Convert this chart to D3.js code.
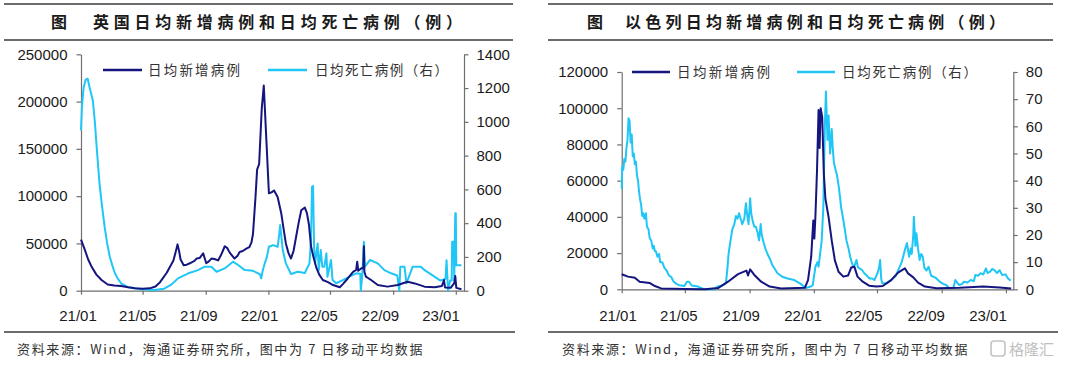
<!DOCTYPE html>
<html><head><meta charset="utf-8">
<script src="https://cdn.jsdelivr.net/npm/d3@7/dist/d3.min.js"></script>
<style>body{margin:0;background:#fff}svg{display:block}</style>
</head><body>
<script>
// ---------------- DATA ----------------
const xTickDates = ["2021-01-01","2021-05-01","2021-09-01","2022-01-01","2022-05-01","2022-09-01","2023-01-01"];
const ukTitle = "英国日均新增病例和日均死亡病例（例）";
const ilTitle = "以色列日均新增病例和日均死亡病例（例）";
const legendCases = "日均新增病例";
const legendDeaths = "日均死亡病例（右）";
const sourceText = "资料来源：Wind，海通证券研究所，图中为 7 日移动平均数据";
const ukLeftTicks = [0,50000,100000,150000,200000,250000];
const ukRightTicks = [0,200,400,600,800,1000,1200,1400];
const ilLeftTicks = [0,20000,40000,60000,80000,100000,120000];
const ilRightTicks = [0,10,20,30,40,50,60,70,80];

const ukCases = [
["2021-01-01",54000],["2021-01-08",44000],["2021-01-15",33000],["2021-01-22",25000],["2021-01-31",17000],["2021-02-10",11300],["2021-02-22",6500],["2021-03-07",5500],["2021-03-20",5000],["2021-04-03",3600],["2021-04-16",2600],["2021-05-01",2100],["2021-05-15",2500],["2021-05-26",4500],["2021-06-04",9000],["2021-06-17",19000],["2021-06-30",32000],["2021-07-04",40000],["2021-07-08",49000],["2021-07-11",42000],["2021-07-14",33000],["2021-07-20",27000],["2021-07-26",27500],["2021-08-01",29000],["2021-08-10",31500],["2021-08-14",34000],["2021-08-20",34500],["2021-08-27",39500],["2021-09-02",29000],["2021-09-07",31000],["2021-09-12",34000],["2021-09-18",33500],["2021-09-25",32000],["2021-10-01",38000],["2021-10-08",47000],["2021-10-13",45000],["2021-10-18",40000],["2021-10-27",34000],["2021-11-02",37000],["2021-11-06",41000],["2021-11-12",42000],["2021-11-19",44500],["2021-11-25",46000],["2021-11-29",51000],["2021-12-02",60000],["2021-12-07",100000],["2021-12-10",128000],["2021-12-14",134000],["2021-12-19",192000],["2021-12-23",217000],["2021-12-28",160000],["2022-01-02",103000],["2022-01-07",104000],["2022-01-12",106000],["2022-01-19",99000],["2022-01-26",82000],["2022-01-31",64000],["2022-02-04",50000],["2022-02-09",40000],["2022-02-14",34000],["2022-02-19",42000],["2022-02-24",57000],["2022-03-01",72000],["2022-03-06",85000],["2022-03-13",88000],["2022-03-17",82000],["2022-03-21",70000],["2022-03-25",47000],["2022-03-30",35000],["2022-04-04",25000],["2022-04-10",17000],["2022-04-17",11300],["2022-04-27",9000],["2022-05-07",6000],["2022-05-20",3600],["2022-05-26",7000],["2022-06-02",11300],["2022-06-09",16000],["2022-06-15",20000],["2022-06-21",22000],["2022-06-23",30700],["2022-06-25",21000],["2022-07-01",23700],["2022-07-05",24000],["2022-07-06",47000],["2022-07-07",20000],["2022-07-10",14800],["2022-07-20",11300],["2022-08-02",6000],["2022-08-21",4300],["2022-09-10",6000],["2022-09-29",9500],["2022-10-13",7700],["2022-11-01",4300],["2022-11-21",3600],["2022-12-05",5000],["2022-12-09",11300],["2022-12-11",3500],["2022-12-22",3000],["2022-12-29",8000],["2022-12-31",15500],["2023-01-02",3000],["2023-01-12",1500]
];

const ukDeaths = [
["2021-01-01",950],["2021-01-03",1100],["2021-01-06",1200],["2021-01-10",1250],["2021-01-14",1255],["2021-01-18",1200],["2021-01-24",1128],["2021-01-28",1000],["2021-01-31",872],["2021-02-06",635],["2021-02-11",500],["2021-02-16",379],["2021-02-21",280],["2021-02-26",201],["2021-03-03",150],["2021-03-08",103],["2021-03-14",70],["2021-03-20",44],["2021-04-03",20],["2021-04-28",8],["2021-05-24",4],["2021-06-12",12],["2021-06-25",34],["2021-07-09",73],["2021-07-29",103],["2021-08-17",122],["2021-08-30",142],["2021-09-12",142],["2021-09-22",112],["2021-10-08",132],["2021-10-24",172],["2021-11-03",152],["2021-11-16",122],["2021-12-02",118],["2021-12-12",103],["2021-12-16",95],["2021-12-18",73],["2021-12-21",120],["2021-12-25",162],["2021-12-29",200],["2022-01-02",260],["2022-01-10",270],["2022-01-19",260],["2022-01-22",330],["2022-01-24",389],["2022-01-27",300],["2022-01-29",241],["2022-02-04",162],["2022-02-14",99],["2022-02-27",112],["2022-03-13",105],["2022-03-22",162],["2022-03-25",300],["2022-03-27",615],["2022-03-29",620],["2022-03-31",260],["2022-04-02",162],["2022-04-07",280],["2022-04-09",120],["2022-04-13",241],["2022-04-16",142],["2022-04-20",142],["2022-04-24",221],["2022-04-26",83],["2022-05-03",182],["2022-05-06",63],["2022-05-13",44],["2022-05-26",63],["2022-06-08",83],["2022-06-21",103],["2022-06-29",100],["2022-06-30",0],["2022-07-03",100],["2022-07-06",290],["2022-07-08",142],["2022-07-18",182],["2022-08-02",162],["2022-08-15",122],["2022-08-28",103],["2022-09-09",90],["2022-09-13",0],["2022-09-15",142],["2022-09-23",142],["2022-09-27",44],["2022-10-09",142],["2022-10-25",142],["2022-11-02",120],["2022-11-22",80],["2022-12-02",60],["2022-12-12",70],["2022-12-14",180],["2022-12-17",0],["2022-12-21",60],["2022-12-24",60],["2022-12-25",290],["2022-12-28",290],["2022-12-29",60],["2022-12-31",458],["2023-01-01",458],["2023-01-02",150],["2023-01-12",150]
];

const ilCases = [
["2021-01-01",8300],["2021-01-13",7000],["2021-01-26",6400],["2021-02-04",4200],["2021-02-23",3500],["2021-03-05",1800],["2021-03-17",500],["2021-05-01",200],["2021-06-08",50],["2021-07-03",700],["2021-07-22",4200],["2021-08-10",8400],["2021-08-26",10300],["2021-08-29",7600],["2021-09-02",11000],["2021-09-11",7600],["2021-09-23",4200],["2021-10-09",1500],["2021-10-31",500],["2021-12-15",800],["2021-12-21",5100],["2021-12-27",18000],["2021-12-31",38000],["2022-01-02",28000],["2022-01-04",40000],["2022-01-07",65000],["2022-01-10",99000],["2022-01-12",78000],["2022-01-14",100000],["2022-01-17",95000],["2022-01-20",64000],["2022-01-23",50000],["2022-01-29",40000],["2022-02-04",27000],["2022-02-10",16000],["2022-02-17",9700],["2022-02-26",7000],["2022-03-07",7600],["2022-03-13",12000],["2022-03-19",12500],["2022-03-25",7000],["2022-04-04",4200],["2022-04-16",2000],["2022-04-30",1500],["2022-05-12",1800],["2022-05-28",5100],["2022-06-10",9200],["2022-06-23",11600],["2022-06-29",8800],["2022-07-09",6600],["2022-07-18",3700],["2022-07-31",1500],["2022-08-22",600],["2022-10-05",800],["2022-11-19",1500],["2022-12-20",1000],["2023-01-11",400]
];

const ilDeaths = [
["2021-01-01",37],["2021-01-02",45],["2021-01-04",44],["2021-01-06",48],["2021-01-08",47],["2021-01-10",52],["2021-01-12",55],["2021-01-14",63],["2021-01-16",62],["2021-01-18",54],["2021-01-20",57],["2021-01-22",49],["2021-01-24",50],["2021-01-26",46],["2021-01-28",47],["2021-01-30",42],["2021-02-01",40],["2021-02-03",36],["2021-02-05",33],["2021-02-07",31],["2021-02-09",27],["2021-02-11",28],["2021-02-13",26],["2021-02-16",28],["2021-02-18",23],["2021-02-21",22],["2021-02-23",19],["2021-02-26",18],["2021-03-01",15],["2021-03-03",16],["2021-03-05",14],["2021-03-07",14],["2021-03-10",12],["2021-03-13",13],["2021-03-15",10],["2021-03-19",10],["2021-03-23",8],["2021-03-27",7],["2021-04-01",5],["2021-04-05",4.6],["2021-04-09",3],["2021-04-15",2],["2021-04-20",1.5],["2021-04-25",1.4],["2021-04-30",1.2],["2021-05-05",2.8],["2021-05-09",2.8],["2021-05-14",1.4],["2021-05-20",1.2],["2021-05-26",1],["2021-06-01",0.5],["2021-06-07",0],["2021-06-26",0],["2021-07-02",1],["2021-07-08",1.2],["2021-07-12",1.5],["2021-07-18",2.2],["2021-07-21",8],["2021-07-23",13],["2021-07-26",17],["2021-07-30",22],["2021-08-03",24],["2021-08-06",27],["2021-08-09",26],["2021-08-12",28],["2021-08-15",26],["2021-08-18",24],["2021-08-22",26],["2021-08-25",31.7],["2021-08-27",28],["2021-08-30",24],["2021-09-01",30],["2021-09-02",33.5],["2021-09-04",28],["2021-09-07",25],["2021-09-10",23],["2021-09-13",23],["2021-09-16",21],["2021-09-19",18],["2021-09-22",24],["2021-09-24",20],["2021-09-28",17],["2021-10-01",15],["2021-10-05",13],["2021-10-10",11],["2021-10-14",9],["2021-10-19",7.5],["2021-10-24",5.9],["2021-11-02",4.6],["2021-11-12",4],["2021-11-25",3.4],["2021-12-07",2],["2021-12-17",0.5],["2021-12-26",1],["2021-12-30",1.5],["2022-01-04",8.3],["2022-01-08",10],["2022-01-10",8.3],["2022-01-16",18],["2022-01-19",30],["2022-01-22",60],["2022-01-24",72.8],["2022-01-27",55],["2022-01-29",64],["2022-02-01",50],["2022-02-04",59],["2022-02-06",52],["2022-02-08",47],["2022-02-10",45],["2022-02-14",42],["2022-02-18",37],["2022-02-22",30],["2022-02-25",26.7],["2022-03-01",22],["2022-03-04",18],["2022-03-08",15],["2022-03-11",12],["2022-03-14",10],["2022-03-17",8.3],["2022-03-20",9],["2022-03-23",10.8],["2022-03-26",8],["2022-03-29",7.7],["2022-04-03",7],["2022-04-07",5.9],["2022-04-12",5],["2022-04-17",4],["2022-04-22",4],["2022-04-26",3.4],["2022-05-02",5.9],["2022-05-05",8],["2022-05-07",10.8],["2022-05-09",4],["2022-05-11",2.2],["2022-05-18",2.2],["2022-05-28",3.4],["2022-06-06",5],["2022-06-10",6.9],["2022-06-17",10],["2022-06-23",14.5],["2022-06-27",17],["2022-07-01",12],["2022-07-04",15],["2022-07-06",13],["2022-07-09",20],["2022-07-10",26.7],["2022-07-12",20],["2022-07-13",16],["2022-07-15",20.6],["2022-07-18",15],["2022-07-21",10.8],["2022-07-24",13],["2022-07-27",12],["2022-07-30",8],["2022-08-03",6.9],["2022-08-07",8.3],["2022-08-12",5],["2022-08-17",4.6],["2022-08-22",4],["2022-08-27",3],["2022-09-02",2.2],["2022-09-10",1.5],["2022-09-15",0.5],["2022-09-23",0.5],["2022-09-27",3.4],["2022-09-30",2.5],["2022-10-04",1.6],["2022-10-10",2],["2022-10-13",2.8],["2022-10-20",2.5],["2022-10-26",3.4],["2022-11-01",3],["2022-11-04",5.3],["2022-11-09",5],["2022-11-14",5.9],["2022-11-19",5.5],["2022-11-24",7.7],["2022-11-27",6],["2022-12-02",6.5],["2022-12-06",7.5],["2022-12-11",6.9],["2022-12-15",6],["2022-12-20",7],["2022-12-25",5.3],["2022-12-31",5.5],["2023-01-05",4],["2023-01-10",3.2]
];

// ---------------- DRAW ----------------
const parse = d3.timeParse("%Y-%m-%d");
const fmt = d3.timeFormat("%y/%m");
const NAVY = "#15157f", CYAN = "#1fc6f6", AXIS = "#6f6f6f", TXT = "#1a1a1a";
const NUMFONT = "'Liberation Sans', Arial, sans-serif";
const CJK = "'Noto Sans CJK SC', sans-serif";

const svg = d3.select("body").append("svg").attr("width",1080).attr("height",365);
svg.append("rect").attr("width",1080).attr("height",365).attr("fill","#fff");

function panel(p){
  const g = svg.append("g");
  [[p.ruleTop,4],[p.ruleTop,40],[p.ruleBot,332]].forEach(([r,y])=>{
    g.append("line").attr("x1",r[0]).attr("x2",r[1]).attr("y1",y).attr("y2",y)
     .attr("stroke","#3a3a3a").attr("stroke-width",1.6);
  });
  g.append("text").attr("x",p.figX).attr("y",28).text("图")
    .attr("font-family",CJK).attr("font-weight","bold").attr("font-size",16).attr("fill",TXT);
  g.append("text").attr("x",p.titleX).attr("y",28).text(p.title)
    .attr("textLength",p.titleLen).attr("lengthAdjust","spacing")
    .attr("font-family",CJK).attr("font-weight","bold").attr("font-size",16).attr("fill",TXT);

  const x = d3.scaleTime().domain([parse("2021-01-01"), parse(p.endDate)]).range([p.x0,p.x1]);
  const yL = d3.scaleLinear().domain([0,p.leftTicks[p.leftTicks.length-1]]).range([p.yB,p.yT]);
  const yR = d3.scaleLinear().domain([0,p.rightTicks[p.rightTicks.length-1]]).range([p.yB,p.yT]);

  const styleAxis = sel => {
    sel.selectAll("path").attr("stroke",AXIS).attr("stroke-width",1.2);
    sel.selectAll("line").attr("stroke",AXIS).attr("stroke-width",1.2);
    sel.selectAll("text").attr("fill",TXT).attr("font-family",NUMFONT).attr("font-size",15);
  };
  const xa = g.append("g").attr("transform",`translate(0,${p.yB})`)
    .call(d3.axisBottom(x).tickValues(xTickDates.map(parse)).tickSize(4).tickSizeOuter(0).tickFormat(""));
  styleAxis(xa);
  const xl = d3.scaleTime().domain([parse(xTickDates[0]), parse(xTickDates[6])]).range(p.labelRange);
  g.selectAll(".xl").data(xTickDates.map(parse)).enter().append("text")
    .attr("x",d=>xl(d)).attr("y",321).attr("text-anchor","middle").text(fmt)
    .attr("fill",TXT).attr("font-family",NUMFONT).attr("font-size",15);

  const la = g.append("g").attr("transform",`translate(${p.x0},0)`)
    .call(d3.axisLeft(yL).tickValues(p.leftTicks).tickSize(4.5).tickSizeOuter(0).tickPadding(9).tickFormat(d3.format("d")));
  styleAxis(la);
  const ra = g.append("g").attr("transform",`translate(${p.x1},0)`)
    .call(d3.axisRight(yR).tickValues(p.rightTicks).tickSize(4.5).tickSizeOuter(0).tickPadding(8).tickFormat(d3.format("d")));
  styleAxis(ra);

  const lineL = d3.line().x(d=>x(parse(d[0]))).y(d=>yL(d[1]));
  const lineR = d3.line().x(d=>x(parse(d[0]))).y(d=>yR(d[1]));
  g.append("path").attr("d",lineR(p.deaths)).attr("fill","none").attr("stroke",CYAN).attr("stroke-width",2).attr("stroke-linejoin","round");
  g.append("path").attr("d",lineL(p.cases)).attr("fill","none").attr("stroke",NAVY).attr("stroke-width",2).attr("stroke-linejoin","round");

  const lg = [[legendCases,NAVY,p.leg1],[legendDeaths,CYAN,p.leg2]];
  lg.forEach(([t,c,L])=>{
    g.append("line").attr("x1",L[0]).attr("x2",L[1]).attr("y1",p.legY).attr("y2",p.legY).attr("stroke",c).attr("stroke-width",2.5);
    g.append("text").attr("x",L[2]).attr("y",p.legY+5).text(t).attr("textLength",L[3]).attr("lengthAdjust","spacing")
      .attr("font-family",CJK).attr("font-size",13.5).attr("fill","#333");
  });
  g.append("text").attr("x",p.srcX).attr("y",354).text(sourceText).attr("letter-spacing",1.65)
    .attr("font-family",CJK).attr("font-size",13).attr("fill","#333");
}

panel({title:ukTitle, figX:51, titleX:93, titleLen:369, ruleTop:[4,513], ruleBot:[4,515],
  x0:81, x1:464, yB:290.7, yT:54.3, endDate:"2023-01-17", labelRange:[78,441],
  leftTicks:ukLeftTicks, rightTicks:ukRightTicks, cases:ukCases, deaths:ukDeaths,
  legY:70, leg1:[103,142,148,92], leg2:[268,307,315,133], srcX:17});
panel({title:ilTitle, figX:587, titleX:625, titleLen:380, ruleTop:[548,1053], ruleBot:[548,1058],
  x0:621.7, x1:1013.3, yB:289.3, yT:72, endDate:"2023-01-15", labelRange:[618,988],
  leftTicks:ilLeftTicks, rightTicks:ilRightTicks, cases:ilCases, deaths:ilDeaths,
  legY:72, leg1:[632,670,677,93], leg2:[797,835,842,135], srcX:562});

const wm = svg.append("g").attr("opacity",0.8);
wm.append("rect").attr("x",991).attr("y",341).attr("width",14).attr("height",15).attr("rx",3)
  .attr("fill","none").attr("stroke","#b5b5b5").attr("stroke-width",1.6);
wm.append("text").attr("x",1009).attr("y",355).text("格隆汇").attr("font-family",CJK).attr("font-size",15).attr("fill","#b0b0b0");
</script>
</body></html>
